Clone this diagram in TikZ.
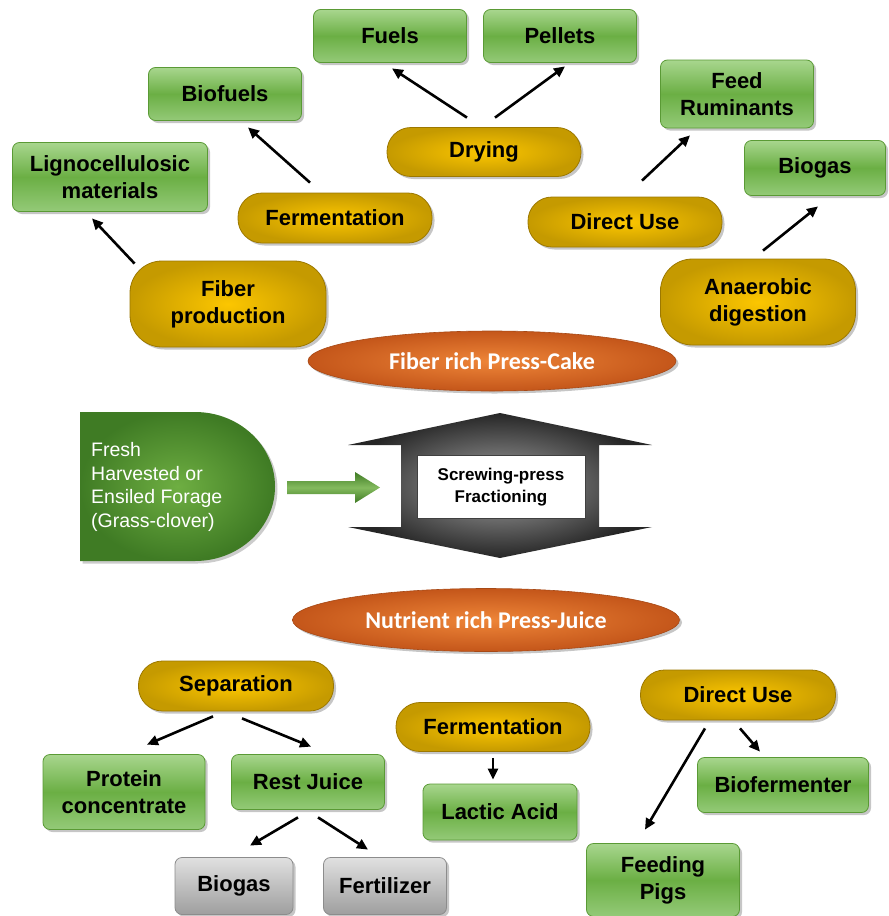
\documentclass[tikz,border=0pt]{standalone}
\usepackage{fontspec}
\setmainfont{Liberation Sans}
\newfontfamily\calib{Carlito}
\usetikzlibrary{arrows.meta,shadows,shapes.geometric}
\definecolor{gtop}{HTML}{A8D68E}
\definecolor{gmid}{HTML}{6BAF44}
\definecolor{gbot}{HTML}{94CA78}
\definecolor{gedge}{HTML}{5A9A35}
\definecolor{yin}{HTML}{FCC600}
\definecolor{yout}{HTML}{C59A00}
\definecolor{yedge}{HTML}{9C7800}
\definecolor{oin}{HTML}{EE8538}
\definecolor{oout}{HTML}{C4561A}
\definecolor{flight}{HTML}{6EAE42}
\definecolor{fdark}{HTML}{3F7B24}
\tikzset{
  base/.style={inner sep=0pt, align=center, font=\fontsize{22}{27}\selectfont\bfseries},
  shad/.style={drop shadow={shadow xshift=2.5pt, shadow yshift=-2.5pt, opacity=0.45}},
  gbox/.style={base, shad, draw=gedge, line width=0.8pt, rounded corners=7pt,
    top color=gtop, bottom color=gbot, middle color=gmid},
  pill/.style={base, shad, draw=yedge, line width=0.8pt, rounded corners=24pt,
    inner color=yin, outer color=yout},
  graybox/.style={base, shad, draw=black!45, line width=0.8pt, rounded corners=7pt,
    top color=black!12, bottom color=black!38},
  oval/.style={ellipse, inner sep=0pt, shad, draw=oout!85!black, line width=0.6pt,
    inner color=oin, outer color=oout, text=white,
    font=\calib\fontsize{24}{28}\selectfont\bfseries},
  arr/.style={-{Triangle[length=11pt,width=10pt]}, line width=2.6pt, black},
}
\newcommand\myarrow[6]{\draw[arr] ([xshift=#2pt,yshift=#3pt]#1) -- ([xshift=#5pt,yshift=#6pt]#4);}
\begin{document}
\begin{tikzpicture}[x=1pt,y=-1pt]
\useasboundingbox (0,0) rectangle (889,916);
% top green boxes
\node[gbox, minimum width=153, minimum height=53] (fuels) at (390,36) {Fuels};
\node[gbox, minimum width=153, minimum height=53] (pellets) at (560,36) {Pellets};
\node[gbox, minimum width=153, minimum height=53] (biofuels) at (225,94) {Biofuels};
\node[gbox, minimum width=153, minimum height=68] (feedrum) at (737,94) {Feed\\Ruminants};
\node[gbox, minimum width=195, minimum height=69] (ligno) at (110,177) {Lignocellulosic\\materials};
\node[gbox, minimum width=141, minimum height=55] (biogasT) at (815,168) {Biogas};
% top pills
\node[pill, minimum width=194, minimum height=49] (drying) at (484,152) {Drying};
\node[pill, minimum width=194, minimum height=50] (fermT) at (335,218) {Fermentation};
\node[pill, minimum width=194, minimum height=50] (directT) at (625,222) {Direct Use};
\node[pill, rounded corners=32pt, minimum width=196, minimum height=86] (fiberprod) at (228,304) {Fiber\\production};
\node[pill, rounded corners=32pt, minimum width=195, minimum height=86] (anaerobic) at (758,302) {Anaerobic\\digestion};
% ovals
\node[oval, minimum width=368, minimum height=60] (cake) at (492,361) {Fiber rich Press-Cake};
\node[oval, minimum width=387, minimum height=63] (juice) at (486,620) {Nutrient rich Press-Juice};
% forage shape
\shade[drop shadow={shadow xshift=2.5pt, shadow yshift=-2.5pt, opacity=0.4}, inner color=flight, outer color=fdark]
  (80,412) -- (195,412) arc[start angle=-90, end angle=90, x radius=80, y radius=74.5] -- (80,561) -- cycle;
\node[anchor=north west, align=left, text=white, inner sep=0pt,
  font=\fontsize{19.5}{23.7}\selectfont] (forage) at (91,442)
  {Fresh\\Harvested or\\Ensiled Forage\\(Grass-clover)};
% green arrow
\shade[top color=fdark, bottom color=fdark, middle color=flight!85!white]
  (287,481) -- (355,481) -- (355,472) -- (380,487.5) -- (355,503) -- (355,494) -- (287,494) -- cycle;
% gray double arrow
\shade[inner color=black!35, outer color=black!85]
  (500,413) -- (652,445) -- (599,445) -- (599,527) -- (652,527) -- (500,558)
  -- (348,527) -- (401,527) -- (401,445) -- (348,445) -- cycle;
\node[draw=black!75, line width=1pt, fill=white, minimum width=168, minimum height=63,
  inner sep=0pt, align=center, font=\fontsize{17}{21.5}\selectfont\bfseries] (press) at (501,487)
  {Screwing-press\\Fractioning};
% bottom pills
\node[pill, minimum width=195, minimum height=50] (sep) at (236,686) {Separation};
\node[pill, minimum width=194, minimum height=49] (fermB) at (493,727) {Fermentation};
\node[pill, minimum width=195, minimum height=50] (directB) at (738,695) {Direct Use};
% bottom boxes
\node[gbox, minimum width=162, minimum height=75] (protein) at (124,792) {Protein\\concentrate};
\node[gbox, minimum width=153, minimum height=55] (rest) at (308,782) {Rest Juice};
\node[gbox, minimum width=154, minimum height=56] (lactic) at (500,812) {Lactic Acid};
\node[gbox, minimum width=171, minimum height=55] (biofer) at (783,785) {Biofermenter};
\node[gbox, minimum width=153, minimum height=73] (pigs) at (663,880) {Feeding\\Pigs};
\node[graybox, minimum width=118, minimum height=57] (biogasB) at (234,886) {Biogas};
\node[graybox, minimum width=123, minimum height=57] (fert) at (385,886) {Fertilizer};
% arrows
\myarrow{drying.north}{-17}{9.5}{fuels.south}{2}{-5.5}
\myarrow{drying.north}{11}{9.5}{pellets.south}{5}{-3.5}
\myarrow{fermT.north}{-25}{10}{biofuels.south}{23}{-6.5}
\myarrow{fiberprod.north west}{5}{-3}{ligno.south}{-18}{-6.5}
\myarrow{directT.north}{17}{16}{feedrum.south}{-47}{-7}
\myarrow{anaerobic.north}{5}{8}{biogasT.south}{3}{-10.5}
\myarrow{sep.south}{-23}{-5}{protein.north}{23}{9.5}
\myarrow{sep.south}{6}{-7}{rest.north}{3}{7.5}
\myarrow{fermB.south}{0}{-6}{lactic.north}{-7}{4}
\myarrow{directB.south}{2}{-8}{biofer.north}{-23}{5.5}
\myarrow{directB.south}{-33}{-8}{pigs.north}{-18}{13.5}
\myarrow{rest.south}{-10}{-7.5}{biogasB.north}{16}{11.5}
\myarrow{rest.south}{10}{-7.5}{fert.north}{-17}{7.5}
\end{tikzpicture}
\end{document}
